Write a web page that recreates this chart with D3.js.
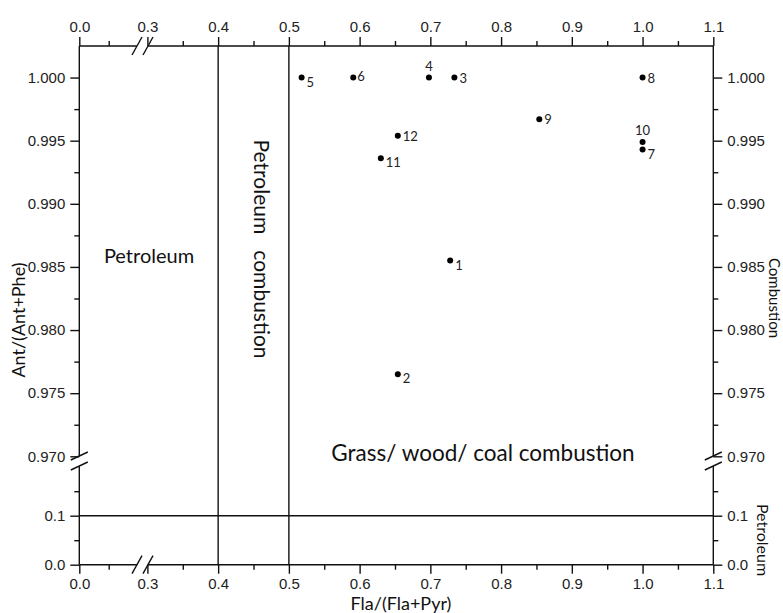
<!DOCTYPE html>
<html>
<head>
<meta charset="utf-8">
<script src="https://cdn.jsdelivr.net/npm/d3@7"></script>
<style>
  body { margin: 0; background: #fff; }
  svg { display: block; font-family: Lato, "Open Sans", sans-serif; }
  .tick text { font-size: 15px; fill: #222; }
  .tick line, .axis-line, .ref-line, .brk { stroke: #111; stroke-width: 1.4; }
</style>
</head>
<body>
<div id="chart"></div>
<script>
// sample ids and ratios
const ids = ["1", "2", "3", "4", "5", "6", "7", "8", "9", "10", "11", "12"];
const flaRatio = [0.728, 0.654, 0.734, 0.698, 0.518, 0.591, 1.000, 1.000, 0.854, 1.000, 0.630, 0.654];
const antRatio = [0.9855, 0.9765, 1.000, 1.000, 1.000, 1.000, 0.9943, 1.000, 0.9967, 0.9949, 0.9936, 0.9954];
const labelSide = ["rlow", "rlow", "right", "above", "rlow", "rhigh", "rlow", "right", "right", "above", "rlow", "right"];

// axis ticks (two segments on each axis because of the breaks)
const xLowTicks = [0.0];
const xLowMinor = [0.05];
const xHighTicks = [0.3, 0.4, 0.5, 0.6, 0.7, 0.8, 0.9, 1.0, 1.1];
const xHighMinor = [0.35, 0.45, 0.55, 0.65, 0.75, 0.85, 0.95, 1.05];
const yLowTicks = [0.0, 0.1];
const yLowMinor = [0.05, 0.15];
const yHighTicks = [0.970, 0.975, 0.980, 0.985, 0.990, 0.995, 1.000];
const yHighMinor = [0.9725, 0.9775, 0.9825, 0.9875, 0.9925, 0.9975];

// source boundaries
const flaLimits = [0.4, 0.5];
const antLimit = 0.1;

const W = 783, H = 613;
const L = 79.3, R = 713.3, T = 46, B = 564.7;

const svg = d3.select("#chart").append("svg")
  .attr("width", W).attr("height", H);

// piecewise scales
const xLow = d3.scaleLinear().domain([0, 0.1]).range([L, 138.1]);
const xHigh = d3.scaleLinear().domain([0.3, 1.1]).range([147.4, R]);
const yLow = d3.scaleLinear().domain([0, 0.2]).range([B, 466.7]);
const yHigh = d3.scaleLinear().domain([0.97, 1.0025]).range([456.3, T]);
const x = v => v < 0.2 ? xLow(v) : xHigh(v);
const y = v => v < 0.5 ? yLow(v) : yHigh(v);

const xBrk = [137, 148];   // x break slashes
const yBrk = [456, 466];   // y break slashes

function drawAxis(gen, scale, major, minor, tx, ty, fmt) {
  const gMaj = svg.append("g").attr("transform", `translate(${tx},${ty})`)
    .call(gen(scale).tickValues(major).tickSize(9).tickPadding(5).tickFormat(d3.format(fmt)));
  gMaj.select(".domain").remove();
  const gMin = svg.append("g").attr("transform", `translate(${tx},${ty})`)
    .call(gen(scale).tickValues(minor).tickSize(5).tickFormat(""));
  gMin.select(".domain").remove();
}

// x axes, bottom and top
[[d3.axisBottom, B], [d3.axisTop, T]].forEach(([gen, yy]) => {
  drawAxis(gen, xLow, xLowTicks, xLowMinor, 0, yy, ".1f");
  drawAxis(gen, xHigh, xHighTicks, xHighMinor, 0, yy, ".1f");
});
// y axes, left and right
[[d3.axisLeft, L], [d3.axisRight, R]].forEach(([gen, xx]) => {
  drawAxis(gen, yLow, yLowTicks, yLowMinor, xx, 0, ".1f");
  drawAxis(gen, yHigh, yHighTicks, yHighMinor, xx, 0, ".3f");
});

// axis lines with gaps at the breaks
const axisSegs = [
  [L, B, xBrk[0], B], [xBrk[1], B, R, B],
  [L, T, xBrk[0], T], [xBrk[1], T, R, T],
  [L, B, L, yBrk[1]], [L, yBrk[0], L, T],
  [R, B, R, yBrk[1]], [R, yBrk[0], R, T]
];
svg.append("g").selectAll("line").data(axisSegs).join("line")
  .attr("class", "axis-line")
  .attr("x1", d => d[0]).attr("y1", d => d[1])
  .attr("x2", d => d[2]).attr("y2", d => d[3]);

// break slashes
const slashes = [];
xBrk.forEach(cx => [B, T].forEach(cy => slashes.push([cx - 5, cy + 9, cx + 5, cy - 9])));
yBrk.forEach(cy => [L, R].forEach(cx => slashes.push([cx - 8.5, cy + 4, cx + 8.5, cy - 4])));
svg.append("g").selectAll("line").data(slashes).join("line")
  .attr("class", "brk")
  .attr("x1", d => d[0]).attr("y1", d => d[1])
  .attr("x2", d => d[2]).attr("y2", d => d[3]);

// reference lines
svg.append("g").selectAll("line").data(flaLimits).join("line")
  .attr("class", "ref-line")
  .attr("x1", d => x(d)).attr("x2", d => x(d))
  .attr("y1", T).attr("y2", B);
svg.append("line").attr("class", "ref-line")
  .attr("x1", L).attr("x2", R)
  .attr("y1", y(antLimit)).attr("y2", y(antLimit));

// points
const pts = ids.map((id, i) => ({ id, fx: flaRatio[i], ay: antRatio[i], side: labelSide[i] }));
svg.append("g").selectAll("circle").data(pts).join("circle")
  .attr("cx", d => x(d.fx)).attr("cy", d => y(d.ay))
  .attr("r", 3).attr("fill", "#000");

const off = {
  right: [5, 0, "start"],
  rlow: [5, 4, "start"],
  rhigh: [4, -2, "start"],
  above: [0, -12, "middle"]
};
svg.append("g").selectAll("text").data(pts).join("text")
  .attr("x", d => x(d.fx) + off[d.side][0])
  .attr("y", d => y(d.ay) + off[d.side][1])
  .attr("text-anchor", d => off[d.side][2])
  .attr("dominant-baseline", "central")
  .attr("font-size", 13).attr("fill", "#222")
  .text(d => d.id);

// region labels
svg.append("text").attr("x", 149).attr("y", 255)
  .attr("text-anchor", "middle").attr("dominant-baseline", "central")
  .attr("font-size", 20).attr("fill", "#111").text("Petroleum");
svg.append("text")
  .attr("transform", "translate(262,249) rotate(90)")
  .attr("text-anchor", "middle").attr("dominant-baseline", "central")
  .attr("font-size", 21).attr("fill", "#111")
  .style("white-space", "pre").text("Petroleum   combustion");
svg.append("text").attr("x", 483).attr("y", 452)
  .attr("text-anchor", "middle").attr("dominant-baseline", "central")
  .attr("font-size", 22.5).attr("fill", "#111").text("Grass/ wood/ coal combustion");

// axis titles
svg.append("text").attr("x", 401).attr("y", 603)
  .attr("text-anchor", "middle").attr("dominant-baseline", "central")
  .attr("font-size", 18).attr("fill", "#111").text("Fla/(Fla+Pyr)");
svg.append("text")
  .attr("transform", "translate(18,320) rotate(-90)")
  .attr("text-anchor", "middle").attr("dominant-baseline", "central")
  .attr("font-size", 18).attr("fill", "#111").text("Ant/(Ant+Phe)");
svg.append("text")
  .attr("transform", "translate(775,298) rotate(90)")
  .attr("text-anchor", "middle").attr("dominant-baseline", "central")
  .attr("font-size", 15).attr("fill", "#111").text("Combustion");
svg.append("text")
  .attr("transform", "translate(763,540) rotate(90)")
  .attr("text-anchor", "middle").attr("dominant-baseline", "central")
  .attr("font-size", 16).attr("fill", "#111").text("Petroleum");
</script>
</body>
</html>
